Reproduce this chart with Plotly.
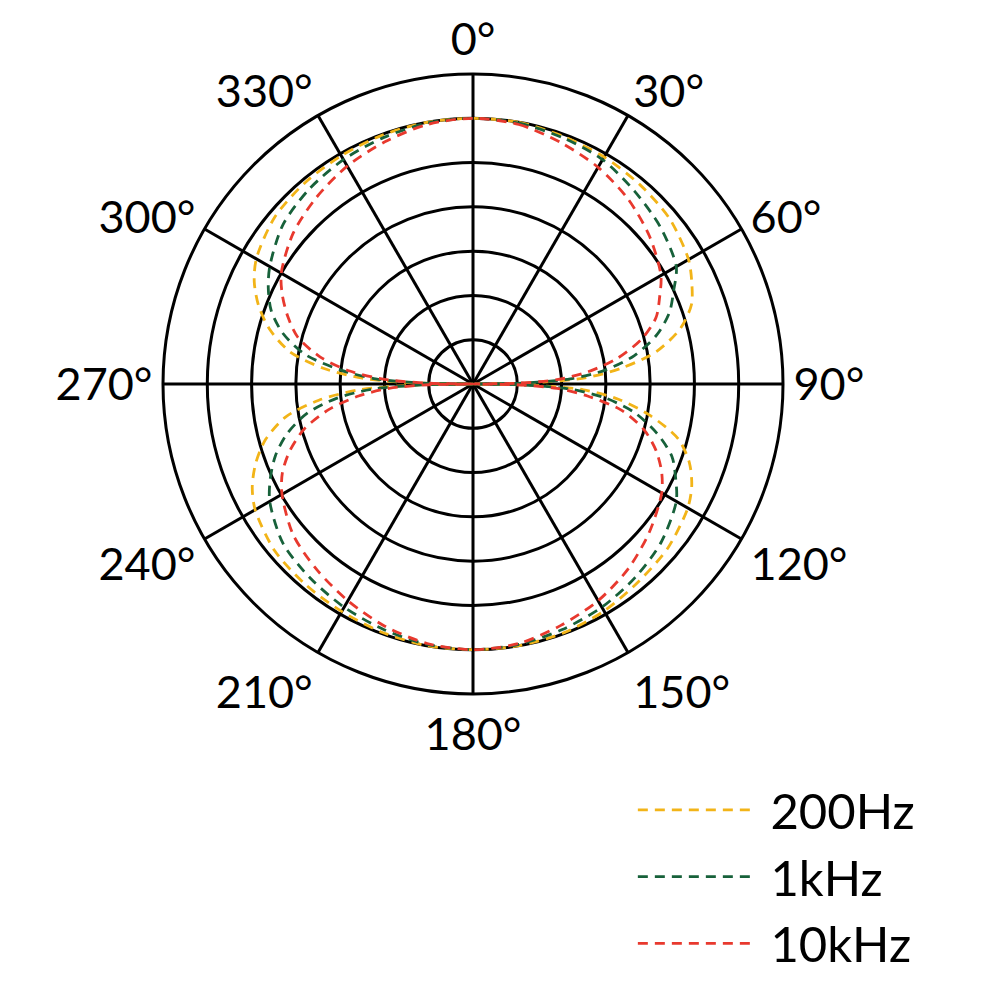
import plotly.graph_objects as go

# Shared angles (degrees, clockwise from top)
theta = [0, 10, 20, 30, 40, 50, 60, 65, 70, 75, 80, 84, 87, 89, 90,
         91, 93, 96, 100, 105, 110, 115, 120, 130, 140, 150, 160, 170, 180,
         190, 200, 210, 220, 230, 240, 245, 250, 255, 260, 264, 267, 269, 270,
         271, 273, 276, 280, 285, 290, 295, 300, 310, 320, 330, 340, 350, 360]

# Radii in ring units (outer ring = 7)
r_200hz = [6.0, 6.0, 5.95, 5.92, 5.87, 5.8, 5.62, 5.45, 5.25, 4.85, 4.2, 3.35, 2.5, 1.2, 0.0,
           1.2, 2.5, 3.3, 4.05, 4.8, 5.2, 5.45, 5.6, 5.75, 5.82, 5.92, 5.98, 6.0, 6.0,
           6.0, 5.97, 5.93, 5.9, 5.85, 5.68, 5.5, 5.22, 4.85, 4.3, 3.5, 2.6, 1.3, 0.0,
           1.3, 2.5, 3.4, 4.2, 4.75, 5.15, 5.45, 5.65, 5.85, 5.92, 5.95, 5.98, 6.0, 6.0]

r_1khz = [6.0, 5.98, 5.92, 5.85, 5.68, 5.52, 5.3, 5.0, 4.72, 4.3, 3.7, 3.0, 2.2, 1.1, 0.0,
          1.1, 2.2, 3.0, 3.7, 4.3, 4.78, 5.05, 5.3, 5.55, 5.7, 5.82, 5.9, 5.97, 6.0,
          5.97, 5.9, 5.82, 5.72, 5.6, 5.3, 5.05, 4.75, 4.35, 3.8, 3.1, 2.3, 1.1, 0.0,
          1.1, 2.2, 3.0, 3.85, 4.45, 4.85, 5.1, 5.3, 5.6, 5.75, 5.85, 5.92, 5.98, 6.0]

r_10khz = [6.0, 5.95, 5.8, 5.65, 5.45, 5.2, 4.9, 4.65, 4.4, 3.95, 3.3, 2.6, 1.9, 1.0, 0.0,
           1.0, 1.9, 2.6, 3.4, 4.0, 4.4, 4.7, 4.92, 5.2, 5.45, 5.65, 5.8, 5.95, 6.0,
           5.95, 5.82, 5.65, 5.48, 5.3, 4.98, 4.75, 4.4, 3.95, 3.3, 2.6, 1.9, 1.0, 0.0,
           1.0, 2.0, 2.8, 3.5, 4.1, 4.45, 4.75, 5.0, 5.3, 5.5, 5.68, 5.82, 5.95, 6.0]

series_names = ["200Hz", "1kHz", "10kHz"]
series_colors = ["#F2B418", "#17613A", "#E8392E"]

angle_ticks = [0, 30, 60, 90, 120, 150, 180, 210, 240, 270, 300, 330]
angle_labels = ["0°", "30°", "60°", "90°", "120°", "150°", "180°", "210°", "240°", "270°", "300°", "330°"]
ring_ticks = [1, 2, 3, 4, 5, 6, 7]

FONT = "Lato"

fig = go.Figure()
for i, (name, rv, col) in enumerate(zip(series_names, [r_200hz, r_1khz, r_10khz], series_colors)):
    fig.add_trace(go.Scatterpolar(
        r=rv, theta=theta, mode="lines", name="\u00a0" + name,
        legendgroup="g%d" % i,
        line=dict(color=col, width=2.8, dash="10px,7px", shape="spline", smoothing=0.8),
    ))

fig.update_layout(
    width=984, height=984,
    margin=dict(l=0, r=0, t=0, b=0),
    paper_bgcolor="white",
    plot_bgcolor="white",
    font=dict(family=FONT, color="black", size=44),
    showlegend=True,
    legend=dict(
        x=0.635, y=0.224, xanchor="left", yanchor="top",
        font=dict(family=FONT, size=49, color="black"),
        itemwidth=115,
        tracegroupgap=0,
        bgcolor="rgba(0,0,0,0)",
    ),
    polar=dict(
        domain=dict(x=[155 / 984, 775 / 984], y=[1 - 686 / 984, 1 - 66 / 984]),
        bgcolor="white",
        radialaxis=dict(
            range=[0, 7], tickvals=ring_ticks, showticklabels=False,
            showline=False, ticks="", gridcolor="black", gridwidth=3,
        ),
        angularaxis=dict(
            rotation=90, direction="clockwise",
            tickvals=angle_ticks, ticktext=angle_labels,
            ticks="", showline=True, linecolor="black", linewidth=3,
            gridcolor="black", gridwidth=3,
            tickfont=dict(family=FONT, size=45, color="black"),
        ),
    ),
)

fig.write_html("out.html")
